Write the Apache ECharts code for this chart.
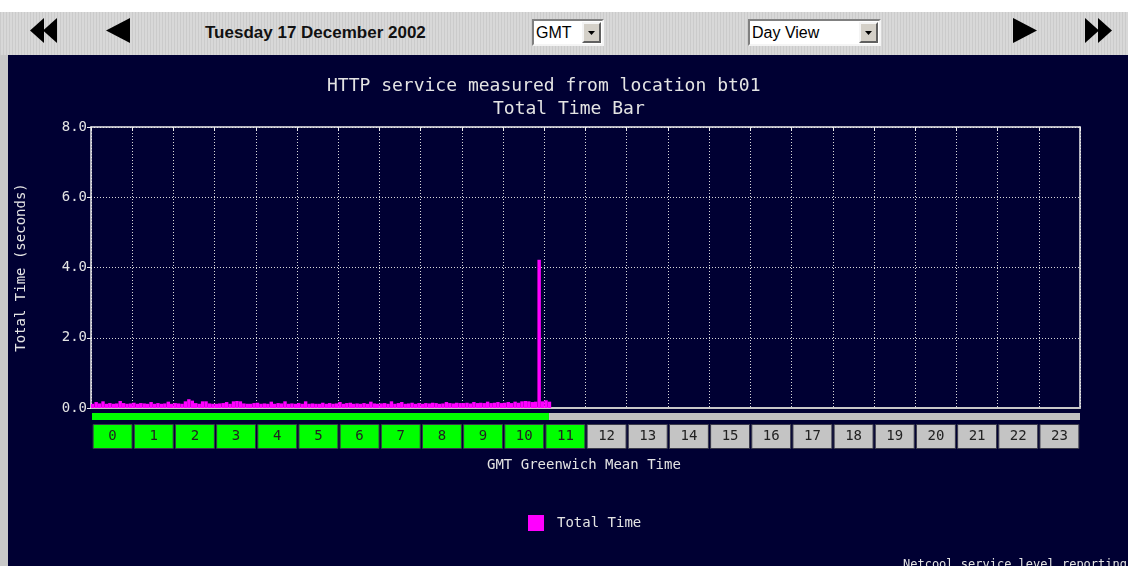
<!DOCTYPE html>
<html>
<head>
<meta charset="utf-8">
<title>HTTP service - Total Time Bar</title>
<script src="https://cdn.jsdelivr.net/npm/echarts@6/dist/echarts.min.js"></script>
<style>
  body { margin: 0; width: 1128px; height: 566px; overflow: hidden; position: relative; background: #fff; }
  .bar { position: absolute; left: 0; top: 12px; width: 1128px; height: 43px;
    background: repeating-linear-gradient(90deg, #cbcbcb 0 1px, #d8d8d8 1px 3px); }
  .side { position: absolute; left: 0; top: 55px; width: 8px; height: 511px; background: #c8c8c8; }
  .panel { position: absolute; left: 8px; top: 55px; width: 1120px; height: 511px; background: #000033; }
  .date { position: absolute; left: 205px; top: 23px; font: bold 17px "Liberation Sans", Arial, sans-serif; color: #111; }
  .sel { position: absolute; top: 19px; height: 23px; background: #fff;
    border: 2px solid; border-color: #808080 #f4f4f4 #f4f4f4 #808080;
    font: 16px "Liberation Sans", Arial, sans-serif; color: #000; line-height: 23px; }
  .sel span { padding-left: 2px; }
  .sel .btn { position: absolute; right: 1px; top: 1px; width: 15px; height: 17px; background: #d4d0c8;
    border: 2px solid; border-color: #f4f4f4 #606060 #606060 #f4f4f4; }
  #main { position: absolute; left: 0; top: 0; width: 1128px; height: 566px; }
</style>
</head>
<body>
<div class="bar"></div>
<div class="side"></div>
<div class="panel"></div>
<svg style="position:absolute;left:0;top:0" width="1128" height="55">
  <polygon points="30,30.5 44,18 44,43" fill="#000"/>
  <polygon points="43,30.5 57,18 57,43" fill="#000"/>
  <polygon points="106,30.5 130,18 130,43" fill="#000"/>
  <polygon points="1037,30.5 1013,18 1013,43" fill="#000"/>
  <polygon points="1099,30.5 1085,18 1085,43" fill="#000"/>
  <polygon points="1112,30.5 1098,18 1098,43" fill="#000"/>
</svg>
<div class="date">Tuesday 17 December 2002</div>
<div class="sel" style="left:532px;width:68px"><span>GMT</span><div class="btn"><svg width="15" height="17"><polygon points="4,7 11,7 7.5,11" fill="#000"/></svg></div></div>
<div class="sel" style="left:748px;width:129px"><span>Day View</span><div class="btn"><svg width="15" height="17"><polygon points="4,7 11,7 7.5,11" fill="#000"/></svg></div></div>
<div id="main"></div>

<script>
// hour labels under the plot
const hourLabels = ['0', '1', '2', '3', '4', '5', '6', '7', '8', '9', '10', '11',
  '12', '13', '14', '15', '16', '17', '18', '19', '20', '21', '22', '23']

// time reached in the day (hours)
const progressHours = 11.1

// total time (seconds), one value per 5 minutes from 00:00
const totalTime = [
  0.12, 0.17, 0.13, 0.19, 0.12, 0.14, 0.12, 0.13, 0.20, 0.14, 0.12, 0.13,
  0.15, 0.12, 0.14, 0.13, 0.12, 0.17, 0.12, 0.14, 0.12, 0.13, 0.18, 0.12,
  0.14, 0.13, 0.12, 0.19, 0.25, 0.21, 0.14, 0.12, 0.19, 0.19, 0.13, 0.12,
  0.12, 0.13, 0.14, 0.17, 0.12, 0.19, 0.20, 0.19, 0.13, 0.12, 0.12, 0.14,
  0.15, 0.12, 0.13, 0.12, 0.18, 0.12, 0.14, 0.13, 0.19, 0.12, 0.13, 0.12,
  0.14, 0.12, 0.19, 0.12, 0.13, 0.12, 0.12, 0.15, 0.12, 0.14, 0.12, 0.13,
  0.17, 0.12, 0.14, 0.15, 0.12, 0.13, 0.12, 0.14, 0.12, 0.18, 0.13, 0.12,
  0.13, 0.14, 0.12, 0.19, 0.12, 0.14, 0.17, 0.12, 0.13, 0.15, 0.12, 0.14,
  0.12, 0.14, 0.13, 0.15, 0.14, 0.12, 0.13, 0.17, 0.14, 0.13, 0.15, 0.14,
  0.14, 0.15, 0.13, 0.17, 0.14, 0.15, 0.14, 0.18, 0.14, 0.15, 0.17, 0.14,
  0.15, 0.17, 0.14, 0.18, 0.15, 0.19, 0.20, 0.19, 0.17, 0.18, 4.22, 0.19,
  0.22, 0.18
]

// 5 minute slots over the day
const slotLabels = []
hourLabels.forEach((h) => {
  for (let m = 0; m < 60; m += 5) {
    slotLabels.push(h.padStart(2, '0') + ':' + String(m).padStart(2, '0'))
  }
})

const mono = 'DejaVu Sans Mono'
const textColor = '#e4e4e4'
const green = '#00ff00'
const grey = '#c4c4c4'
const dotted = { color: '#d8d8d8', width: 1, type: [1, 2] }

const myChart = echarts.init(document.getElementById('main'))

const option = {
  animation: false,
  backgroundColor: 'transparent',
  textStyle: { fontFamily: mono },
  legend: {
    data: ['Total Time'],
    left: 528,
    top: 515,
    padding: 0,
    icon: 'rect',
    itemWidth: 16,
    itemHeight: 16,
    textStyle: { color: textColor, fontFamily: mono, fontSize: 14, padding: [0, 0, 0, 8] }
  },
  graphic: [
    {
      type: 'text', left: 327, top: 77,
      style: { text: 'HTTP service measured from location bt01', fill: textColor, font: '18px "DejaVu Sans Mono"' }
    },
    {
      type: 'text', left: 493, top: 100,
      style: { text: 'Total Time Bar', fill: textColor, font: '18px "DejaVu Sans Mono"' }
    },
    {
      type: 'text', left: 487, top: 458,
      style: { text: 'GMT Greenwich Mean Time', fill: textColor, font: '14px "DejaVu Sans Mono"' }
    },
    {
      type: 'text', left: 903, top: 559,
      style: { text: 'Netcool service level reporting', fill: textColor, font: '12px "DejaVu Sans Mono"' }
    }
  ],
  grid: [
    // main plot
    { left: 91, top: 127, width: 989, height: 281, outerBoundsMode: 'none' },
    // progress strip
    { left: 92, top: 413, width: 988, height: 7, outerBoundsMode: 'none' },
    // hour boxes
    { left: 92, top: 424, width: 988, height: 25, outerBoundsMode: 'none' }
  ],
  xAxis: [
    {
      gridIndex: 0,
      type: 'category',
      data: slotLabels,
      position: 'bottom',
      axisLine: { show: true, lineStyle: { color: '#c8c8c8', width: 2 } },
      axisTick: { show: false },
      axisLabel: { show: false },
      splitLine: { show: false }
    },
    {
      gridIndex: 0,
      type: 'value',
      min: 0,
      max: 24,
      interval: 1,
      position: 'top',
      axisLine: { show: true, onZero: false, lineStyle: { color: '#eeeeee', width: 1.5 } },
      axisTick: { show: true, inside: true, length: 4, lineStyle: { color: '#eeeeee' } },
      axisLabel: { show: false },
      splitLine: { show: true, lineStyle: dotted }
    },
    {
      gridIndex: 1, type: 'value', min: 0, max: 24, show: false
    },
    {
      gridIndex: 2, type: 'category', data: hourLabels, show: false
    }
  ],
  yAxis: [
    {
      gridIndex: 0,
      type: 'value',
      min: 0,
      max: 8,
      interval: 2,
      name: 'Total Time (seconds)',
      nameLocation: 'middle',
      nameGap: 63,
      nameTextStyle: { color: textColor, fontFamily: mono, fontSize: 14 },
      axisLine: { show: true, lineStyle: { color: '#eeeeee', width: 1.5 } },
      axisTick: { show: true, length: 4, lineStyle: { color: '#eeeeee' } },
      axisLabel: {
        color: textColor,
        fontFamily: mono,
        fontSize: 14,
        margin: 4,
        formatter: (value) => value.toFixed(1)
      },
      splitLine: { show: true, lineStyle: dotted }
    },
    {
      gridIndex: 0,
      type: 'value',
      min: 0,
      max: 8,
      position: 'right',
      axisLine: { show: true, lineStyle: { color: '#eeeeee', width: 1.5 } },
      axisTick: { show: false },
      axisLabel: { show: false },
      splitLine: { show: false }
    },
    {
      gridIndex: 1, type: 'category', data: ['day'], show: false
    },
    {
      gridIndex: 2, type: 'value', min: 0, max: 1, show: false
    }
  ],
  series: [
    {
      name: 'Total Time',
      type: 'bar',
      xAxisIndex: 0,
      yAxisIndex: 0,
      data: totalTime,
      barCategoryGap: 0,
      itemStyle: { color: '#ff00ff' },
      z: 3
    },
    {
      name: 'done',
      type: 'bar',
      xAxisIndex: 2,
      yAxisIndex: 2,
      stack: 'day',
      barWidth: '100%',
      data: [progressHours],
      itemStyle: { color: green }
    },
    {
      name: 'left',
      type: 'bar',
      xAxisIndex: 2,
      yAxisIndex: 2,
      stack: 'day',
      barWidth: '100%',
      data: [24 - progressHours],
      itemStyle: { color: '#c0c0c0' }
    },
    {
      name: 'hours',
      type: 'bar',
      xAxisIndex: 3,
      yAxisIndex: 3,
      barCategoryGap: '3%',
      data: hourLabels.map((h) => ({
        value: 1,
        itemStyle: { color: Number(h) <= Math.floor(progressHours) ? green : grey }
      })),
      itemStyle: { borderColor: '#3a3a4a', borderWidth: 1 },
      label: {
        show: true,
        position: 'inside',
        formatter: '{b}',
        color: '#222222',
        fontFamily: mono,
        fontSize: 14
      }
    }
  ]
}
myChart.setOption(option)
</script>
</body>
</html>
